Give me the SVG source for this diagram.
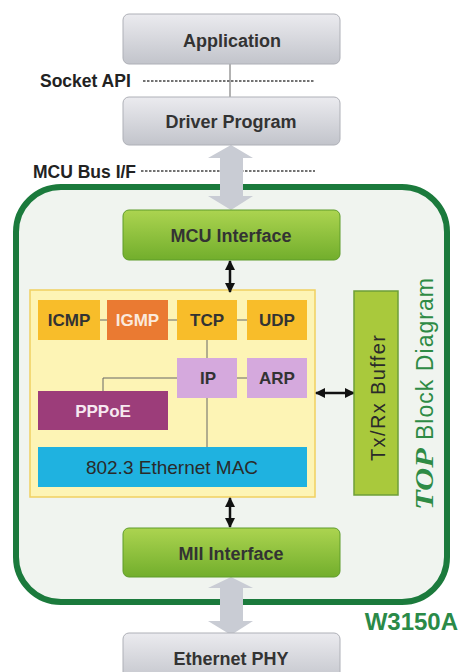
<svg xmlns="http://www.w3.org/2000/svg" width="461" height="672" viewBox="0 0 461 672">
  <defs>
    <linearGradient id="gGray" x1="0" y1="0" x2="0" y2="1">
      <stop offset="0" stop-color="#ebebef"/>
      <stop offset="1" stop-color="#c2c4cb"/>
    </linearGradient>
    <linearGradient id="gGreen" x1="0" y1="0" x2="0" y2="1">
      <stop offset="0" stop-color="#acd450"/>
      <stop offset="1" stop-color="#72ae2c"/>
    </linearGradient>
    <marker id="ah" viewBox="0 0 10 10" refX="9" refY="5" markerWidth="4" markerHeight="4" orient="auto-start-reverse">
      <path d="M0,0 L10,5 L0,10 z" fill="#111"/>
    </marker>
    <style>
      .lbl { font-family: "Liberation Sans", Arial, sans-serif; font-weight: bold; fill: #333; text-anchor: middle; font-size: 18px; }
      .side { font-family: "Liberation Sans", Arial, sans-serif; font-weight: bold; fill: #222; font-size: 17.5px; }
      .gray { fill: url(#gGray); stroke: #aeb0b7; stroke-width: 1; }
      .green { fill: url(#gGreen); stroke: #5e9c2a; stroke-width: 1; }
      .proto { font-family: "Liberation Sans", Arial, sans-serif; font-weight: bold; font-size: 17px; fill: #333; text-anchor: middle; }
      .thin { stroke: #666; stroke-width: 1; fill: none; }
      .dash { stroke: #444; stroke-width: 1.5; stroke-dasharray: 2.5 1.5; fill: none; }
      .arrow { stroke: #111; stroke-width: 2.5; fill: none; marker-start: url(#ah); marker-end: url(#ah); }
      .fat { fill: #c9ccd4; }
    </style>
  </defs>

  <rect width="461" height="672" fill="#ffffff"/>

  <!-- chip outline -->
  <g id="w3150a">
    <rect x="16" y="187" width="431" height="415" rx="45" fill="#f0f4ef" stroke="#1b7a3c" stroke-width="6"/>
    <text x="458" y="630" font-family="Liberation Sans, Arial, sans-serif" font-weight="bold" font-size="24" fill="#2a8a48" text-anchor="end">W3150A</text>
  </g>

  <!-- protocol engine panel -->
  <g id="toe-panel">
    <rect x="30" y="290" width="285" height="207" fill="#fdf4b5" stroke="#f0d060" stroke-width="1.5"/>
  </g>

  <!-- connectors -->
  <g id="connectors">
    <line class="dash" x1="143" y1="81" x2="315" y2="81"/>
    <line class="dash" x1="141" y1="171" x2="315" y2="171"/>
    <line class="thin" x1="230" y1="64" x2="230" y2="97"/>
    <line class="thin" x1="100" y1="320" x2="107" y2="320"/>
    <line class="thin" x1="168" y1="320" x2="177" y2="320"/>
    <line class="thin" x1="237" y1="320" x2="247" y2="320"/>
    <line class="thin" x1="207" y1="340" x2="207" y2="358"/>
    <line class="thin" x1="237" y1="378" x2="247" y2="378"/>
    <polyline class="thin" points="177,378 103,378 103,391"/>
    <line class="thin" x1="207" y1="398" x2="207" y2="447"/>
    <line class="arrow" x1="230" y1="261" x2="230" y2="292"/>
    <line class="arrow" x1="230" y1="498" x2="230" y2="527"/>
    <line class="arrow" x1="316" y1="393" x2="354" y2="393"/>
    <polygon class="fat" points="231,145 253,158 243,158 243,196 253,196 231,210 208,196 220,196 220,158 208,158"/>
    <polygon class="fat" points="231,577 253,588 243,588 243,621 253,621 231,635 208,621 220,621 220,588 208,588"/>
  </g>

  <!-- host side -->
  <g id="application">
    <rect class="gray" x="123" y="14" width="217" height="50" rx="6"/>
    <text class="lbl" x="232" y="47">Application</text>
  </g>
  <g id="socket-api">
    <text class="side" x="40" y="87">Socket API</text>
  </g>
  <g id="driver-program">
    <rect class="gray" x="123" y="97" width="217" height="48" rx="6"/>
    <text class="lbl" x="231" y="128">Driver Program</text>
  </g>
  <g id="mcu-bus">
    <text class="side" x="33" y="178">MCU Bus I/F</text>
  </g>

  <!-- chip blocks -->
  <g id="mcu-interface">
    <rect class="green" x="123" y="210" width="217" height="50" rx="6"/>
    <text class="lbl" x="231" y="242">MCU Interface</text>
  </g>
  <g id="icmp">
    <rect x="38" y="300" width="62" height="40" fill="#f8bd2a"/>
    <text class="proto" x="69" y="326">ICMP</text>
  </g>
  <g id="igmp">
    <rect x="107" y="300" width="61" height="40" fill="#ea7a32"/>
    <text class="proto" x="137.5" y="326" style="fill:#fbe9dc">IGMP</text>
  </g>
  <g id="tcp">
    <rect x="177" y="300" width="60" height="40" fill="#f8bd2a"/>
    <text class="proto" x="207" y="326">TCP</text>
  </g>
  <g id="udp">
    <rect x="247" y="300" width="60" height="40" fill="#f8bd2a"/>
    <text class="proto" x="277" y="326">UDP</text>
  </g>
  <g id="ip">
    <rect x="177" y="358" width="60" height="40" fill="#d5a9dd"/>
    <text class="proto" x="208" y="384">IP</text>
  </g>
  <g id="arp">
    <rect x="247" y="358" width="60" height="40" fill="#d5a9dd"/>
    <text class="proto" x="277" y="384">ARP</text>
  </g>
  <g id="pppoe">
    <rect x="38" y="391" width="130" height="39" fill="#9c3d7a"/>
    <text class="proto" x="103" y="417" style="fill:#f6e8f0">PPPoE</text>
  </g>
  <g id="ethernet-mac">
    <rect x="38" y="447" width="269" height="40" fill="#1fb2e0"/>
    <text x="172" y="474" font-family="Liberation Sans, Arial, sans-serif" font-size="19" fill="#2a2a2a" text-anchor="middle">802.3 Ethernet MAC</text>
  </g>
  <g id="txrx-buffer">
    <rect x="354" y="291" width="44" height="204" fill="#a9c93c" stroke="#6e9e38" stroke-width="1.5"/>
    <text x="0" y="0" transform="translate(385,398) rotate(-90)" font-family="Liberation Sans, Arial, sans-serif" font-size="20" fill="#2a2a2a" text-anchor="middle" textLength="126" lengthAdjust="spacing">Tx/Rx Buffer</text>
  </g>
  <g id="toe-title">
    <text x="0" y="0" transform="translate(433,510) rotate(-90)" font-family="Liberation Serif, serif" font-style="italic" font-weight="bold" font-size="26" fill="#2e8b45" textLength="62" lengthAdjust="spacingAndGlyphs">TOP</text>
    <text x="0" y="0" transform="translate(433,440) rotate(-90)" font-family="Liberation Sans, Arial, sans-serif" font-size="23" fill="#2e8b45" textLength="162" lengthAdjust="spacing">Block Diagram</text>
  </g>
  <g id="mii-interface">
    <rect class="green" x="123" y="528" width="217" height="49" rx="6"/>
    <text class="lbl" x="231" y="560">MII Interface</text>
  </g>

  <!-- line side -->
  <g id="ethernet-phy">
    <rect class="gray" x="123" y="633" width="217" height="50" rx="6"/>
    <text class="lbl" x="231" y="665">Ethernet PHY</text>
  </g>
</svg>
